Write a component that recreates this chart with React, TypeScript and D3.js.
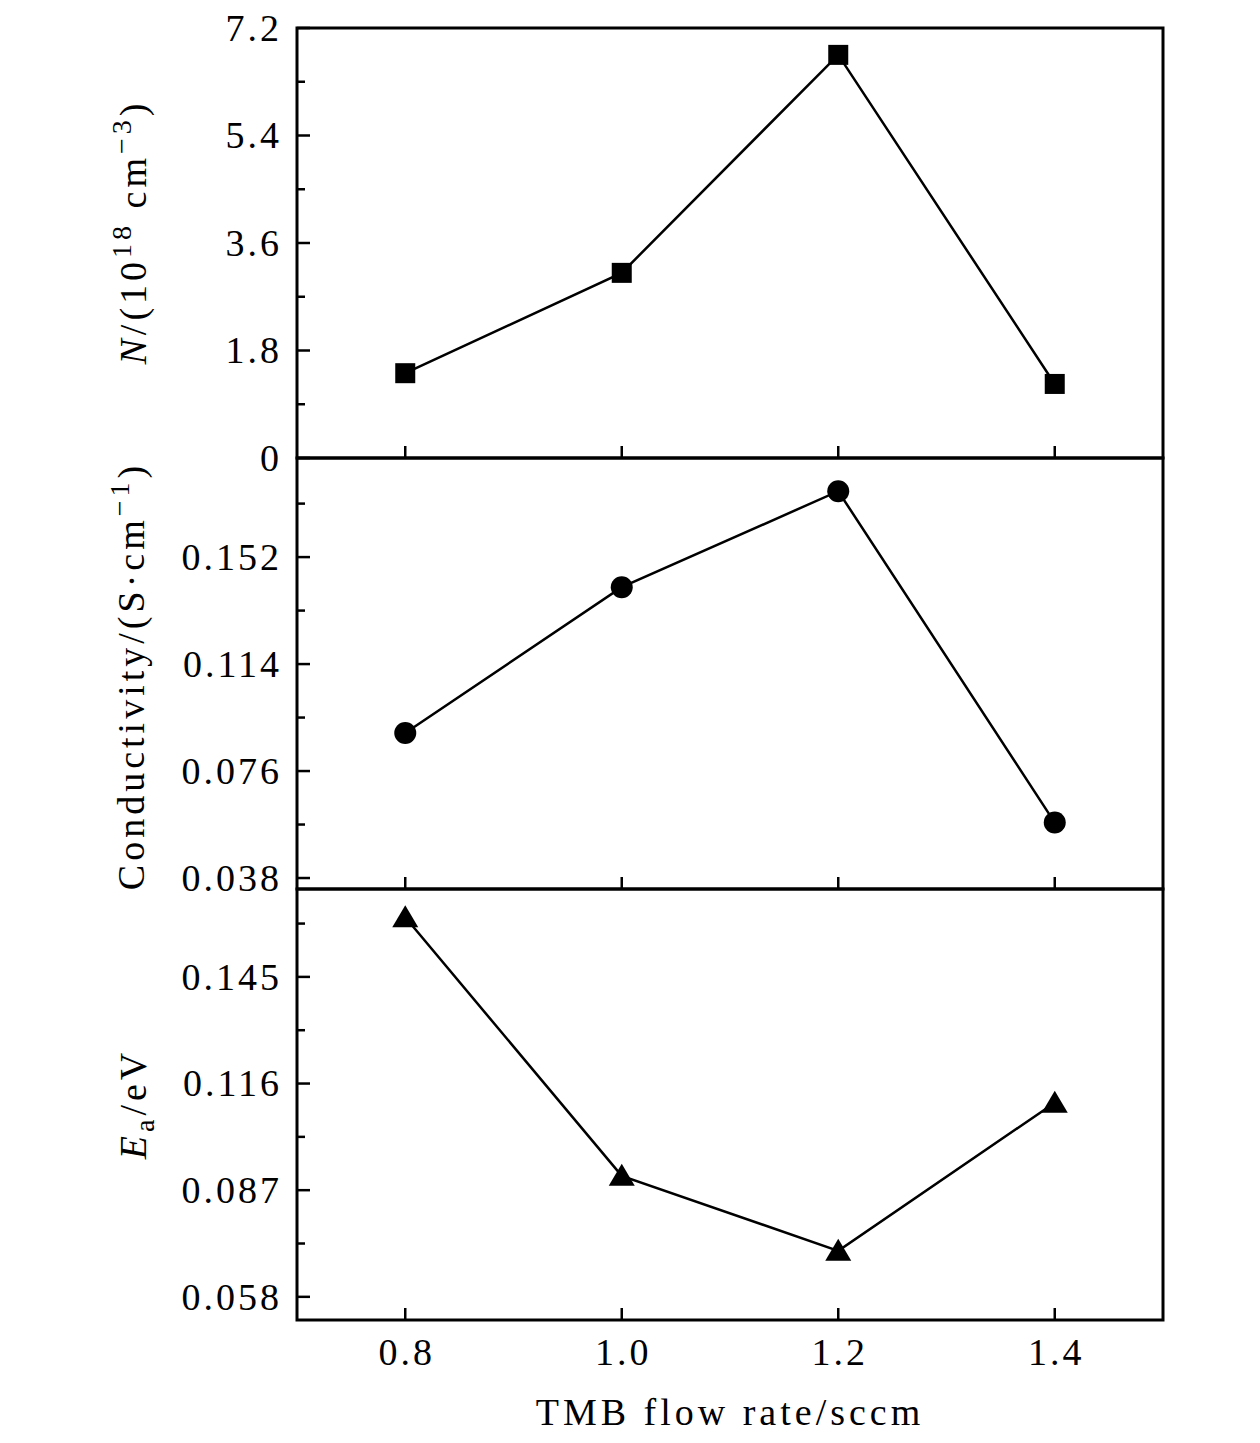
import { useEffect, useRef } from 'react';
import * as d3 from 'd3';

const flowRate = [0.8, 1.0, 1.2, 1.4];
const carrierN = [1.42, 3.1, 6.75, 1.24];
const conductivity = [0.0895, 0.1413, 0.1754, 0.0577];
const activationE = [0.1612, 0.0909, 0.0705, 0.1108];

const xTicks = [0.8, 1.0, 1.2, 1.4];
const nTicks = [0, 1.8, 3.6, 5.4, 7.2];
const condTicks = [0.038, 0.076, 0.114, 0.152];
const eaTicks = [0.058, 0.087, 0.116, 0.145];

export default function App() {
  const svgRef = useRef<SVGSVGElement>(null);

  useEffect(() => {
    const width = 1260;
    const height = 1443;
    const left = 297;
    const right = 1163;
    const font = '"Liberation Serif", "Times New Roman", serif';

    const x = d3.scaleLinear().domain([0.7, 1.5]).range([left, right]);

    const panels = [
      {
        values: carrierN,
        ticks: nTicks,
        domain: [0, 7.2],
        range: [458, 28],
        fmt: (d: number) => (d === 0 ? '0' : d3.format('.1f')(d)),
        marker: 'square',
      },
      {
        values: conductivity,
        ticks: condTicks,
        domain: [0.0341, 0.1872],
        range: [889, 458],
        fmt: d3.format('.3f'),
        marker: 'circle',
      },
      {
        values: activationE,
        ticks: eaTicks,
        domain: [0.0517, 0.1689],
        range: [1320, 889],
        fmt: d3.format('.3f'),
        marker: 'triangle',
      },
    ];

    const svg = d3.select(svgRef.current);
    svg.selectAll('*').remove();
    svg.attr('width', width).attr('height', height);

    panels.forEach(p => {
      const y = d3.scaleLinear().domain(p.domain).range(p.range);
      const g = svg.append('g');
      const [yb, yt] = p.range;

      // minor y ticks (midpoints)
      const step = p.ticks[1] - p.ticks[0];
      const minors: number[] = [];
      for (let i = -1; i < p.ticks.length; i++) {
        const v = p.ticks[0] + step * (i + 0.5);
        if (v > p.domain[0] && v < p.domain[1]) minors.push(v);
      }
      g.selectAll('line.minor')
        .data(minors)
        .enter()
        .append('line')
        .attr('x1', left)
        .attr('x2', left + 8)
        .attr('y1', d => y(d))
        .attr('y2', d => y(d))
        .attr('stroke', '#000')
        .attr('stroke-width', 2.5);

      // major y ticks
      g.selectAll('line.major')
        .data(p.ticks)
        .enter()
        .append('line')
        .attr('x1', left)
        .attr('x2', left + 13)
        .attr('y1', d => y(d))
        .attr('y2', d => y(d))
        .attr('stroke', '#000')
        .attr('stroke-width', 2.5);

      g.selectAll('text.ytick')
        .data(p.ticks)
        .enter()
        .append('text')
        .attr('x', 282)
        .attr('y', d => y(d))
        .attr('dy', '0.34em')
        .attr('text-anchor', 'end')
        .style('font-family', font)
        .style('font-size', '38px')
        .style('letter-spacing', '3px')
        .text(d => p.fmt(d));

      // x ticks on panel bottom
      g.selectAll('line.xtick')
        .data(xTicks)
        .enter()
        .append('line')
        .attr('x1', d => x(d))
        .attr('x2', d => x(d))
        .attr('y1', yb)
        .attr('y2', yb - 12)
        .attr('stroke', '#000')
        .attr('stroke-width', 2.5);

      // frame
      g.append('rect')
        .attr('x', left)
        .attr('y', yt)
        .attr('width', right - left)
        .attr('height', yb - yt)
        .attr('fill', 'none')
        .attr('stroke', '#000')
        .attr('stroke-width', 3);

      const pts = flowRate.map((f, i) => [x(f), y(p.values[i])] as [number, number]);

      g.append('path')
        .attr('d', d3.line()(pts))
        .attr('fill', 'none')
        .attr('stroke', '#000')
        .attr('stroke-width', 2.5);

      if (p.marker === 'square') {
        g.selectAll('rect.m')
          .data(pts)
          .enter()
          .append('rect')
          .attr('x', d => d[0] - 10)
          .attr('y', d => d[1] - 10)
          .attr('width', 20)
          .attr('height', 20)
          .attr('fill', '#000');
      } else if (p.marker === 'circle') {
        g.selectAll('circle.m')
          .data(pts)
          .enter()
          .append('circle')
          .attr('cx', d => d[0])
          .attr('cy', d => d[1])
          .attr('r', 11)
          .attr('fill', '#000');
      } else {
        g.selectAll('path.m')
          .data(pts)
          .enter()
          .append('path')
          .attr('d', d => `M${d[0]},${d[1] - 12}L${d[0] + 13},${d[1] + 10}L${d[0] - 13},${d[1] + 10}Z`)
          .attr('fill', '#000');
      }
    });

    // x tick labels
    svg
      .append('g')
      .selectAll('text')
      .data(xTicks)
      .enter()
      .append('text')
      .attr('x', d => x(d) + 1.5)
      .attr('y', 1365)
      .attr('text-anchor', 'middle')
      .style('font-family', font)
      .style('font-size', '38px')
      .style('letter-spacing', '3px')
      .text(d => d3.format('.1f')(d));

    svg
      .append('text')
      .attr('x', (left + right) / 2)
      .attr('y', 1425)
      .attr('text-anchor', 'middle')
      .style('font-family', font)
      .style('font-size', '38px')
      .style('letter-spacing', '4px')
      .text('TMB flow rate/sccm');

    // y axis titles
    const t1 = svg
      .append('text')
      .attr('transform', 'translate(146,232) rotate(-90)')
      .attr('text-anchor', 'middle')
      .style('font-family', font)
      .style('font-size', '38px')
      .style('letter-spacing', '4px');
    t1.append('tspan').style('font-style', 'italic').text('N');
    t1.append('tspan').text('/(10');
    t1.append('tspan').attr('dy', -15).style('font-size', '28px').text('18');
    t1.append('tspan').attr('dy', 15).text(' cm');
    t1.append('tspan').attr('dy', -15).style('font-size', '28px').text('−3');
    t1.append('tspan').attr('dy', 15).text(')');

    const t2 = svg
      .append('text')
      .attr('transform', 'translate(144,676) rotate(-90)')
      .attr('text-anchor', 'middle')
      .style('font-family', font)
      .style('font-size', '38px')
      .style('letter-spacing', '4px');
    t2.append('tspan').text('Conductivity/(S·cm');
    t2.append('tspan').attr('dy', -15).style('font-size', '28px').text('−1');
    t2.append('tspan').attr('dy', 15).text(')');

    const t3 = svg
      .append('text')
      .attr('transform', 'translate(146,1104) rotate(-90)')
      .attr('text-anchor', 'middle')
      .style('font-family', font)
      .style('font-size', '38px')
      .style('letter-spacing', '4px');
    t3.append('tspan').style('font-style', 'italic').text('E');
    t3.append('tspan').attr('dy', 8).style('font-size', '28px').text('a');
    t3.append('tspan').attr('dy', -8).text('/eV');
  }, []);

  return <svg ref={svgRef} style={{ display: 'block', margin: '-8px 0 0 -8px' }}></svg>;
}
